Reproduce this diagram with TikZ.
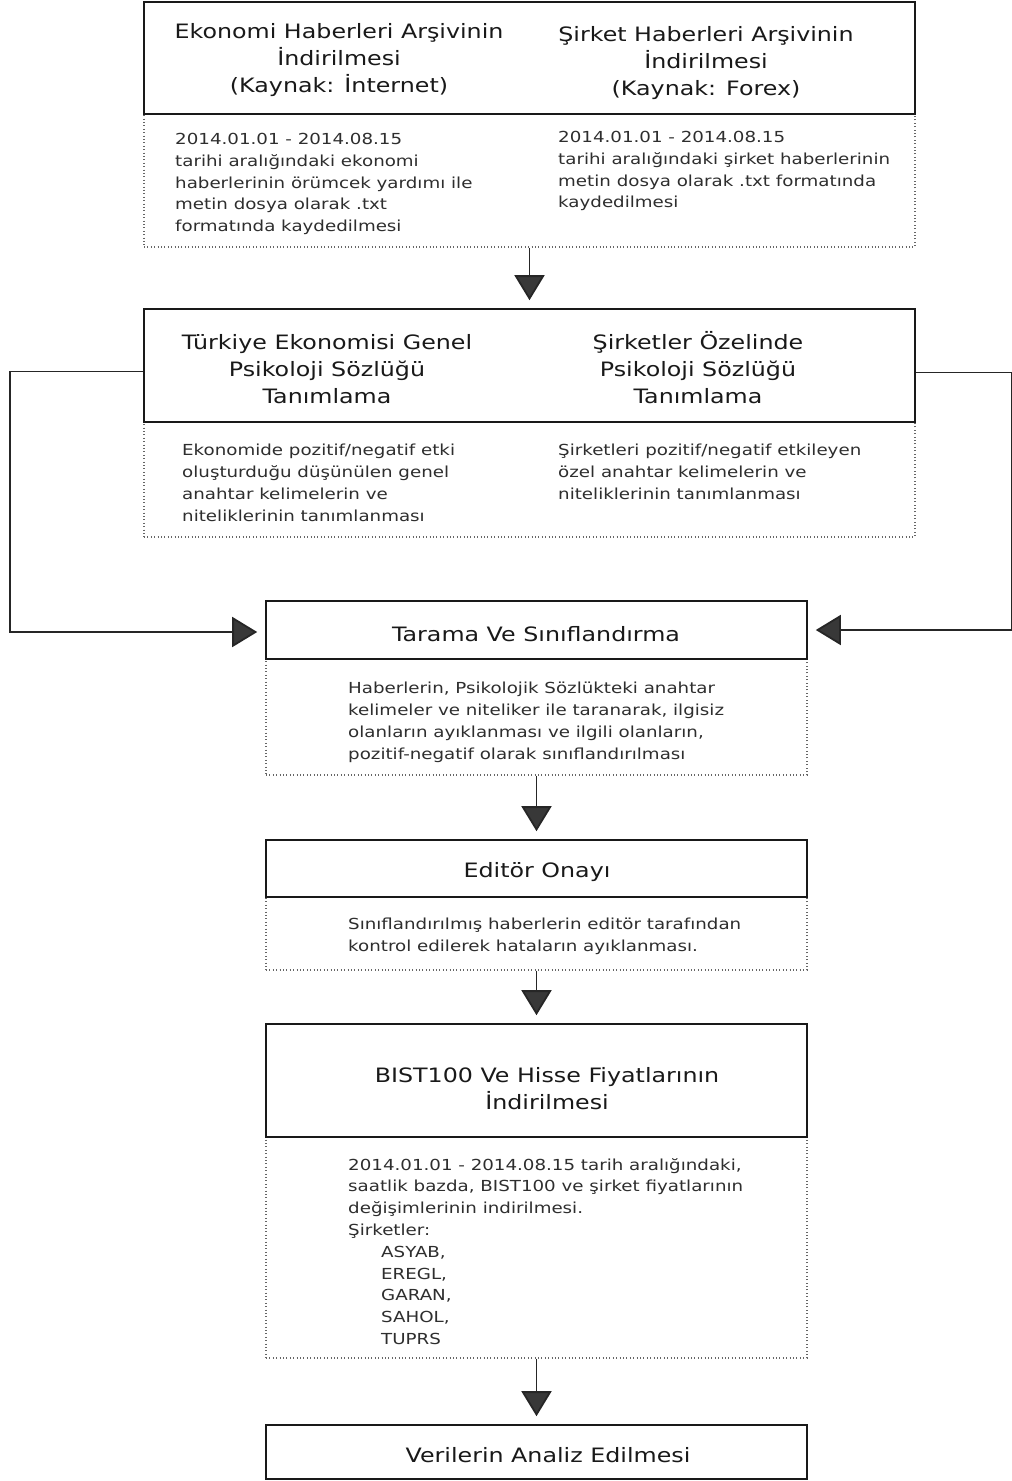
\documentclass[tikz,border=0pt]{standalone}
\usepackage{fontspec}
\setmainfont{DejaVu Sans}[FakeStretch=1.2]
\usepackage{tikz}
\usetikzlibrary{arrows.meta, positioning, calc}

\begin{document}
\begin{tikzpicture}[x=1pt, y=-1pt,
  stage/.style={draw=black!90, line width=1.6pt, minimum width=771pt, inner sep=0pt},
  narrow/.style={stage, minimum width=541pt},
  detail/.style={draw=black!60, line width=1.2pt, dash pattern=on 1pt off 2.4pt, minimum width=771pt, inner sep=0pt},
  ndetail/.style={detail, minimum width=541pt},
  head/.style={font=\fontsize{19.8}{27}\selectfont, align=center, text=black!90},
  note/.style={font=\fontsize{15.2}{21.8}\selectfont, align=left, anchor=north west, inner sep=0pt, text=black!82},
  flow/.style={draw=black!85, line width=1.8pt, -{Triangle[width=30pt,length=25pt,sep=3pt,fill=black!78]}, shorten >=5pt}]
  \useasboundingbox[fill=white] (0,0) rectangle (1012,1481);

  % archive download
  \node[detail, minimum height=133pt] (arsivd) at (529.5,180.5) {};
  \node[stage, minimum height=112pt] (arsiv) at (529.5,58) {};
  \node[head] (ekohab) at (339,60) {Ekonomi Haberleri Arşivinin\\İndirilmesi\\(Kaynak: İnternet)};
  \node[head] (sirhab) at (706,63) {Şirket Haberleri Arşivinin\\İndirilmesi\\(Kaynak: Forex)};
  \node[note] (ekonot) at (175,133) {2014.01.01 - 2014.08.15\\tarihi aralığındaki ekonomi\\haberlerinin örümcek yardımı ile\\metin dosya olarak .txt\\formatında kaydedilmesi};
  \node[note] (sirnot) at (558,131) {2014.01.01 - 2014.08.15\\tarihi aralığındaki şirket haberlerinin\\metin dosya olarak .txt formatında\\kaydedilmesi};

  % dictionaries
  \node[detail, minimum height=115pt] (sozlukd) at (529.5,479.5) {};
  \node[stage, minimum height=113pt] (sozluk) at (529.5,365.5) {};
  \node[head] (genel) at (327,369) {Türkiye Ekonomisi Genel\\Psikoloji Sözlüğü\\Tanımlama};
  \node[head] (ozel) at (698,367.5) {Şirketler Özelinde\\Psikoloji Sözlüğü\\Tanımlama};
  \node[note] (gennot) at (182,444) {Ekonomide pozitif/negatif etki\\oluşturduğu düşünülen genel\\anahtar kelimelerin ve\\niteliklerinin tanımlanması};
  \node[note] (oznot) at (558,444) {Şirketleri pozitif/negatif etkileyen\\özel anahtar kelimelerin ve\\niteliklerinin tanımlanması};

  % scanning
  \node[ndetail, minimum height=116pt] (taramad) at (536.5,717) {};
  \node[narrow, minimum height=58pt] (tarama) at (536.5,630) {};
  \node[head] (tarbas) at (536,634) {Tarama Ve Sınıflandırma};
  \node[note] (tarnot) at (348,682) {Haberlerin, Psikolojik Sözlükteki anahtar\\kelimeler ve niteliker ile taranarak, ilgisiz\\olanların ayıklanması ve ilgili olanların,\\pozitif-negatif olarak sınıflandırılması};

  % editor
  \node[ndetail, minimum height=73pt] (onayd) at (536.5,933.5) {};
  \node[narrow, minimum height=57pt] (onay) at (536.5,868.5) {};
  \node[head] (onaybas) at (537,872) {Editör Onayı};
  \node[note] (onaynot) at (348,918) {Sınıflandırılmış haberlerin editör tarafından\\kontrol edilerek hataların ayıklanması.};

  % prices
  \node[ndetail, minimum height=221pt] (fiyatd) at (536.5,1247.5) {};
  \node[narrow, minimum height=113pt] (fiyat) at (536.5,1080.5) {};
  \node[head] (fiyatbas) at (547,1089) {BIST100 Ve Hisse Fiyatlarının\\İndirilmesi};
  \node[note] (fiyatnot) at (348,1158) {2014.01.01 - 2014.08.15 tarih aralığındaki,\\saatlik bazda, BIST100 ve şirket fiyatlarının\\değişimlerinin indirilmesi.\\Şirketler:\\\hspace*{33pt}ASYAB,\\\hspace*{33pt}EREGL,\\\hspace*{33pt}GARAN,\\\hspace*{33pt}SAHOL,\\\hspace*{33pt}TUPRS};

  % analysis
  \node[narrow, minimum height=54pt] (analiz) at (536.5,1452) {};
  \node[head] (analizbas) at (548,1455) {Verilerin Analiz Edilmesi};

  \draw[flow] (arsivd.south) -- (sozluk.north);
  \draw[flow] ([yshift=-6pt]sozluk.west) -- ++(-133,0) |- ([yshift=-2pt]tarama.west);
  \draw[flow] ([yshift=-7pt]sozluk.east) -- ++(96,0) |- (tarama.east);
  \draw[flow] (taramad.south) -- (onay.north);
  \draw[flow] (onayd.south) -- (fiyat.north);
  \draw[flow] (fiyatd.south) -- (analiz.north);
\end{tikzpicture}
\end{document}
